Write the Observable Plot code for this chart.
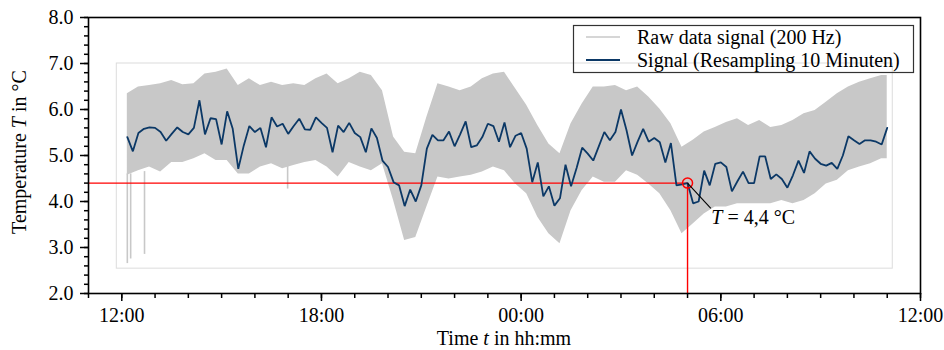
<!DOCTYPE html>
<html><head><meta charset="utf-8">
<script src="https://cdn.jsdelivr.net/npm/d3@7"></script>
<script src="https://cdn.jsdelivr.net/npm/@observablehq/plot@0.6"></script>
<style>
html,body{margin:0;padding:0;background:#fff;}
#chart{width:944px;height:350px;}
</style></head><body><div id="chart"></div>
<script>
// ---- data ----
const domainStart = "2024-01-01T11:00:00Z";
const domainEnd = "2024-01-02T12:00:00Z";

// 10-minute resampled signal, first value at 12:10
const resampledStart = "2024-01-01T12:10:00Z";
const resampledStepMin = 10;
const resampledValues = [
  5.40,5.09,5.49,5.58,5.61,5.60,5.51,5.32,5.47,5.61,
  5.51,5.46,5.60,6.20,5.46,5.81,5.79,5.24,5.96,5.58,
  4.71,5.22,5.64,5.51,5.60,5.18,5.83,5.63,5.69,5.47,
  5.64,5.80,5.57,5.56,5.83,5.71,5.60,5.07,5.65,5.51,
  5.71,5.49,5.40,5.07,5.59,5.38,4.89,4.75,4.42,4.35,
  3.90,4.26,4.00,4.35,5.15,5.45,5.33,5.33,5.52,5.20,
  5.46,5.74,5.18,5.22,5.40,5.69,5.64,5.30,5.72,5.18,
  5.43,5.49,5.15,4.42,4.85,4.11,4.33,3.91,4.07,4.80,
  4.33,4.73,5.17,5.04,4.89,5.20,5.51,5.33,5.51,6.00,
  5.55,5.00,5.30,5.58,5.30,5.38,5.29,4.85,5.27,4.35,
  4.37,4.40,3.96,4.00,4.67,4.35,4.82,4.85,4.75,4.22,
  4.44,4.65,4.40,4.40,4.98,4.98,4.49,4.59,4.49,4.30,
  4.57,4.89,4.62,5.09,4.93,4.82,4.78,4.84,4.71,5.00,
  5.42,5.33,5.25,5.33,5.33,5.30,5.24,5.60
];

// raw 200 Hz signal envelope, read every 20 minutes from 12:10
const envelopeStart = "2024-01-01T12:10:00Z";
const envelopeStepMin = 20;
const envelopeUpper = [
  6.34,6.49,6.52,6.56,6.63,6.54,6.56,6.77,6.81,6.88,
  6.52,6.67,6.52,6.59,6.52,6.56,6.52,6.67,6.77,6.56,
  6.67,6.81,6.74,6.41,5.40,5.07,5.04,5.83,6.56,6.49,
  6.41,6.49,6.67,6.77,6.81,6.45,6.09,5.65,5.25,5.04,
  5.69,6.12,6.49,6.49,6.52,6.41,6.49,6.27,6.01,5.69,
  5.18,5.33,5.51,5.61,5.72,5.80,5.65,5.76,5.61,5.65,
  5.76,5.91,5.98,6.16,6.34,6.49,6.59,6.67,6.74
];
const envelopeLower = [
  4.57,4.67,4.75,4.64,4.85,4.85,4.93,5.04,4.89,4.89,
  4.60,4.60,4.75,4.82,4.71,4.78,4.85,4.89,4.75,4.53,
  4.85,4.75,4.67,4.82,4.02,3.15,3.22,3.88,4.53,4.49,
  4.53,4.57,4.64,4.75,4.67,4.38,4.17,3.66,3.30,3.08,
  3.80,4.24,4.53,4.42,4.42,4.67,4.57,4.38,4.17,3.80,
  3.30,3.51,3.73,3.88,3.88,3.95,3.95,3.95,3.95,4.02,
  3.95,4.02,4.17,4.38,4.46,4.67,4.75,4.82,4.93
];
// isolated downward spikes of the raw signal
const spikeTimes = ["2024-01-01T12:10:00Z","2024-01-01T12:16:00Z","2024-01-01T12:41:00Z","2024-01-01T16:59:00Z"];
const spikeLows = [2.65, 2.75, 2.85, 4.27];
const spikeHighs = [4.60, 4.60, 4.65, 4.80];

// light inset frame of the embedded picture
const insetX = ["2024-01-01T11:51:00Z", "2024-01-02T11:10:00Z"];
const insetY = [2.54, 7.0];

// marked reading
const markerTime = "2024-01-02T05:00:00Z";
const markerValue = 4.4;
const labelTime = "2024-01-02T05:42:00Z";
const labelValue = 3.85;
const markerText = ["T", " = 4,4 °C"];

const majorTicksY = [2, 3, 4, 5, 6, 7, 8];
const legendLabels = ["Raw data signal (200 Hz)", "Signal (Resampling 10 Minuten)"];
const axisLabelX = ["Time ", "t", " in hh:mm"];
const axisLabelY = ["Temperature ", "T", " in °C"];

// ---- build tables ----
const toDate = s => new Date(s);
const resampled = resampledValues.map((v, i) => ({
  t: new Date(+toDate(resampledStart) + i * resampledStepMin * 60000), v
}));
const envelope = envelopeUpper.map((hi, i) => ({
  t: new Date(+toDate(envelopeStart) + i * envelopeStepMin * 60000), hi, lo: envelopeLower[i]
}));
// extend last envelope value to the end of the recording (11:00)
envelope.push({t: resampled[resampled.length - 1].t, hi: envelopeUpper[envelopeUpper.length-1], lo: envelopeLower[envelopeLower.length-1]});
const spikes = spikeTimes.map((t, i) => ({t: toDate(t), lo: spikeLows[i], hi: spikeHighs[i]}));

const FONT = '"Liberation Serif", "Times New Roman", "DejaVu Serif", serif';
const FS = 20;
const GRAY = "#c8c8c8";
const BLUE = "#0b3866";

const mTime = toDate(markerTime);

const plot = Plot.plot({
  width: 944,
  height: 350,
  marginLeft: 88,
  marginRight: 24,
  marginTop: 17,
  marginBottom: 57,
  style: {fontFamily: FONT, fontSize: FS + "px", color: "black", background: "white"},
  x: {type: "utc", domain: [toDate(domainStart), toDate(domainEnd)], label: null},
  y: {domain: [2, 8], label: null},
  marks: [
    Plot.rect([0], {x1: () => toDate(insetX[0]), x2: () => toDate(insetX[1]), y1: () => insetY[0], y2: () => insetY[1], fill: "none", stroke: "#dcdcdc", strokeWidth: 1}),
    Plot.areaY(envelope, {x: "t", y1: "lo", y2: "hi", fill: GRAY, curve: "linear"}),
    Plot.ruleX(spikes, {x: "t", y1: "lo", y2: "hi", stroke: GRAY, strokeWidth: 1.6}),
    Plot.ruleY([markerValue], {x1: toDate(domainStart), x2: mTime, stroke: "#ff0000", strokeWidth: 1.4}),
    Plot.ruleX([mTime], {y1: 2, y2: markerValue, stroke: "#ff0000", strokeWidth: 1.4}),
    Plot.line(resampled, {x: "t", y: "v", stroke: BLUE, strokeWidth: 1.8, strokeLinejoin: "miter"}),
    Plot.dot([0], {x: () => mTime, y: () => markerValue, r: 5, stroke: "#ff0000", fill: "none", strokeWidth: 1.5}),
    Plot.link([0], {x1: () => mTime, y1: () => markerValue, x2: () => toDate(labelTime), y2: () => labelValue, stroke: "black", strokeWidth: 1.1}),
    Plot.axisX({ticks: d3.utcHour.every(1), tickSize: 5, tickFormat: () => "", strokeWidth: 1.5, label: null}),
    Plot.axisX({ticks: d3.utcHour.every(6), tickSize: 8, tickPadding: 6, tickFormat: d3.utcFormat("%H:%M"), strokeWidth: 1.5, label: null, fontSize: FS}),
    Plot.axisY({ticks: d3.range(2, 8.001, 0.2), tickSize: 4, tickFormat: () => "", strokeWidth: 1.5, label: null}),
    Plot.axisY({ticks: majorTicksY, tickSize: 8, tickPadding: 7, tickFormat: d => d.toFixed(1), strokeWidth: 1.5, label: null, fontSize: FS}),
    Plot.frame({stroke: "black", strokeWidth: 1.6})
  ]
});

const svg = d3.select(plot);
const xs = plot.scale("x"), ys = plot.scale("y");

// annotation text
const ax = xs.apply(toDate(labelTime)) + 1, ay = ys.apply(labelValue) + 16;
const at = svg.append("text").attr("x", ax).attr("y", ay).attr("text-anchor", "start").attr("font-family", FONT).attr("font-size", FS).attr("fill", "black");
at.append("tspan").attr("font-style", "italic").text(markerText[0]);
at.append("tspan").text(markerText[1]);

// axis labels
const xl = svg.append("text").attr("x", 504).attr("y", 345).attr("text-anchor", "middle").attr("font-family", FONT).attr("font-size", FS).attr("fill", "black");
xl.append("tspan").text(axisLabelX[0]);
xl.append("tspan").attr("font-style", "italic").text(axisLabelX[1]);
xl.append("tspan").text(axisLabelX[2]);
const yl = svg.append("text").attr("transform", "translate(26,152) rotate(-90)").attr("text-anchor", "middle").attr("font-family", FONT).attr("font-size", FS).attr("fill", "black");
yl.append("tspan").text(axisLabelY[0]);
yl.append("tspan").attr("font-style", "italic").text(axisLabelY[1]);
yl.append("tspan").text(axisLabelY[2]);

// legend
const lg = svg.append("g");
lg.append("rect").attr("x", 573.5).attr("y", 25.5).attr("width", 340).attr("height", 47).attr("fill", "none").attr("stroke", "#333").attr("stroke-width", 1.2);
const legendColors = [GRAY, BLUE];
const legendWidths = [1.6, 1.8];
legendLabels.forEach((lab, i) => {
  const cy = 37 + i * 23;
  lg.append("line").attr("x1", 586).attr("x2", 620).attr("y1", cy).attr("y2", cy).attr("stroke", legendColors[i]).attr("stroke-width", legendWidths[i]);
  lg.append("text").attr("x", 637).attr("y", cy).attr("dy", "0.33em").attr("text-anchor", "start").attr("font-family", FONT).attr("font-size", FS).attr("fill", "black").text(lab);
});

document.getElementById("chart").appendChild(plot);
</script></body></html>
